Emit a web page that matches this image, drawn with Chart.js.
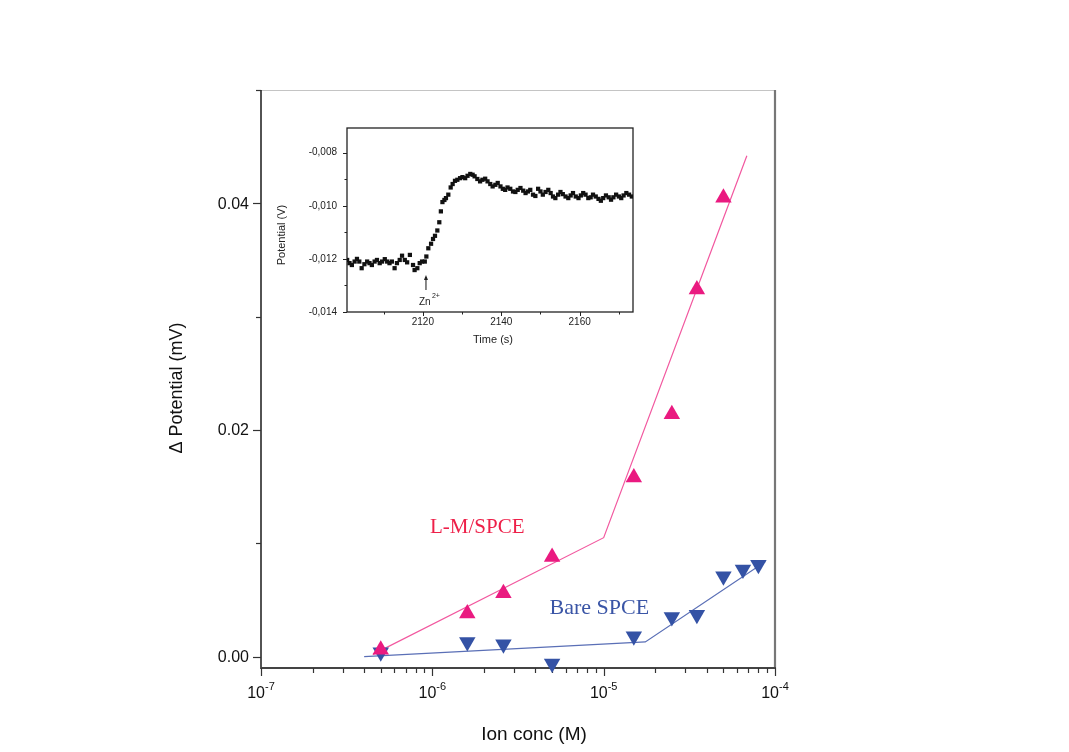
<!DOCTYPE html>
<html>
<head>
<meta charset="utf-8">
<script src="https://cdn.jsdelivr.net/npm/chart.js@4.4.0/dist/chart.umd.min.js"></script>
<style>
  html, body { margin: 0; padding: 0; background: #fff; }
  #wrap { position: relative; width: 1069px; height: 752px; }
  #chart { position: absolute; left: 0; top: 0; }
  #inset { position: absolute; left: 265px; top: 120px; }
</style>
</head>
<body>
<div id="wrap">
  <canvas id="chart" width="1069" height="752"></canvas>
  <canvas id="inset" width="375" height="228"></canvas>
</div>
<script>
// MAIN CHART DATA
const lmConcs = [5e-7, 1.6e-6, 2.6e-6, 5e-6, 1.5e-5, 2.5e-5, 3.5e-5, 5e-5];
const lmValues = [0.0006, 0.0038, 0.0056, 0.0088, 0.0158, 0.0214, 0.0324, 0.0405];
const bareConcs = [5e-7, 1.6e-6, 2.6e-6, 5e-6, 1.5e-5, 2.5e-5, 3.5e-5, 5e-5, 6.5e-5, 8e-5];
const bareValues = [0.0004, 0.0013, 0.0011, -0.0006, 0.0018, 0.0035, 0.0037, 0.0071, 0.0077, 0.0081];
const lmFitConcs = [4.5e-7, 1e-5, 6.85e-5];
const lmFitValues = [0.0002, 0.0105, 0.0442];
const bareFitConcs = [4e-7, 1.75e-5, 8.8e-5];
const bareFitValues = [0.0, 0.0013, 0.0084];
const xTickPowers = [-7, -6, -5, -4];
const xMinorSteps = [2, 3, 4, 5, 6, 7, 8, 9];
const yTickValues = [0, 0.02, 0.04];
const yTickLabels = ["0.00", "0.02", "0.04"];
const yMinorValues = [0.01, 0.03, 0.05];

// INSET DATA
const insetTimes = [
  2100.7, 2101.3, 2101.9, 2102.6, 2103.2, 2103.8, 2104.4, 2105.1, 2105.8, 2106.4,
  2107.0, 2107.7, 2108.3, 2109.0, 2109.6, 2110.3, 2110.9, 2111.5, 2112.1, 2112.8,
  2113.4, 2114.1, 2114.7, 2115.4, 2116.0, 2116.7, 2117.5, 2117.9, 2118.6, 2119.2,
  2119.8, 2120.5, 2120.9, 2121.4, 2122.1, 2122.6, 2123.1, 2123.7, 2124.2, 2124.6,
  2125.0, 2125.5, 2125.9, 2126.5, 2127.1, 2127.6, 2128.2, 2128.8, 2129.5, 2130.1,
  2130.8, 2131.4, 2132.1, 2132.7, 2133.2, 2133.9, 2134.6, 2135.2, 2135.9, 2136.5,
  2137.2, 2137.8, 2138.5, 2139.1, 2139.8, 2140.4, 2141.0, 2141.6, 2142.3, 2143.0,
  2143.6, 2144.2, 2144.9, 2145.6, 2146.2, 2146.8, 2147.4, 2148.1, 2148.7, 2149.4,
  2150.0, 2150.6, 2151.3, 2152.0, 2152.6, 2153.2, 2153.8, 2154.5, 2155.1, 2155.7,
  2156.4, 2157.1, 2157.7, 2158.3, 2159.0, 2159.7, 2160.3, 2160.9, 2161.5, 2162.2,
  2162.8, 2163.4, 2164.1, 2164.8, 2165.4, 2166.0, 2166.7, 2167.4, 2168.0, 2168.6,
  2169.3, 2170.0, 2170.6, 2171.2, 2171.9, 2172.6, 2173.3,
];
const insetPotentials = [
  -0.01204, -0.01216, -0.01223, -0.0121, -0.012, -0.0121, -0.01235, -0.0122, -0.0121, -0.01216,
  -0.01223, -0.0121, -0.01204, -0.01216, -0.0121, -0.01201, -0.0121, -0.01216, -0.0121, -0.01235,
  -0.01216, -0.01204, -0.01188, -0.01204, -0.01213, -0.01185, -0.01223, -0.01242, -0.01235, -0.01216,
  -0.0121, -0.0121, -0.01191, -0.0116, -0.01143, -0.01125, -0.01113, -0.01093, -0.01062, -0.01021,
  -0.00986, -0.00978, -0.00971, -0.00958, -0.00931, -0.00918, -0.00906, -0.00902, -0.00896, -0.00892,
  -0.00896, -0.00887, -0.0088, -0.00883, -0.00889, -0.00899, -0.00908, -0.00902, -0.00898, -0.00908,
  -0.00918, -0.00927, -0.00921, -0.00914, -0.00927, -0.00936, -0.0094, -0.00931, -0.00936, -0.00946,
  -0.00948, -0.0094, -0.00933, -0.00943, -0.00952, -0.00946, -0.0094, -0.00958, -0.00963, -0.00936,
  -0.00946, -0.00958, -0.00948, -0.0094, -0.00952, -0.00965, -0.00971, -0.00958, -0.00948, -0.00956,
  -0.00965, -0.00971, -0.00961, -0.00952, -0.00965, -0.00971, -0.00961, -0.00952, -0.00958, -0.00971,
  -0.00968, -0.00958, -0.00965, -0.00974, -0.00981, -0.00971, -0.00961, -0.00968, -0.00977, -0.00968,
  -0.00958, -0.00965, -0.00971, -0.00961, -0.00952, -0.00958, -0.00965,
];
const insetYTicks = [-0.008, -0.01, -0.012, -0.014];
const insetYLabels = ["-0,008", "-0,010", "-0,012", "-0,014"];
const insetYMinor = [-0.009, -0.011, -0.013];
const insetXTicks = [2120, 2140, 2160];
const insetXMinor = [2110, 2130, 2150, 2170];

const SANS = "'Liberation Sans', Arial, sans-serif";
const SERIF = "'Liberation Serif', 'Times New Roman', serif";

function pairs(xs, ys) {
  return xs.map((x, i) => ({ x: x, y: ys[i] }));
}

function seg(ctx, x1, y1, x2, y2) {
  ctx.beginPath();
  ctx.moveTo(x1, y1);
  ctx.lineTo(x2, y2);
  ctx.stroke();
}

// axes, ticks and labels of the main plot
const mainFrame = {
  id: "mainFrame",
  beforeDatasetsDraw(chart) {
    const { ctx, chartArea: a, scales: { x, y } } = chart;
    ctx.save();
    ctx.strokeStyle = "#c4c4c4";
    ctx.lineWidth = 1;
    seg(ctx, a.left, a.top + 0.5, a.right, a.top + 0.5);
    ctx.strokeStyle = "#777";
    ctx.lineWidth = 2.2;
    seg(ctx, a.right, a.top, a.right, a.bottom);
    ctx.strokeStyle = "#1a1a1a";
    ctx.lineWidth = 1.5;
    seg(ctx, a.left, a.top, a.left, a.bottom + 1);
    ctx.strokeStyle = "#444";
    ctx.lineWidth = 2;
    seg(ctx, a.left, a.bottom, a.right + 1, a.bottom);

    // x ticks
    ctx.strokeStyle = "#333";
    ctx.lineWidth = 1.2;
    xTickPowers.forEach((p, i) => {
      const px = Math.round(x.getPixelForValue(Math.pow(10, p))) + 0.5;
      seg(ctx, px, a.bottom, px, a.bottom + 8);
      if (i < xTickPowers.length - 1) {
        xMinorSteps.forEach((m) => {
          const mx = Math.round(x.getPixelForValue(m * Math.pow(10, p))) + 0.5;
          seg(ctx, mx, a.bottom, mx, a.bottom + 5);
        });
      }
    });
    // y ticks
    yTickValues.forEach((v) => {
      const py = Math.round(y.getPixelForValue(v)) + 0.5;
      seg(ctx, a.left - 8, py, a.left, py);
    });
    yMinorValues.forEach((v) => {
      const py = Math.round(y.getPixelForValue(v)) + 0.5;
      seg(ctx, a.left - 5, py, a.left, py);
    });
    ctx.restore();
  },
  afterDraw(chart) {
    const { ctx, chartArea: a, scales: { x, y } } = chart;
    ctx.save();
    ctx.fillStyle = "#111";
    // y tick labels
    ctx.font = "16px " + SANS;
    ctx.textAlign = "right";
    ctx.textBaseline = "middle";
    yTickValues.forEach((v, i) => {
      ctx.fillText(yTickLabels[i], a.left - 12, y.getPixelForValue(v) + 1);
    });
    // x tick labels 10^n
    xTickPowers.forEach((p) => {
      const px = x.getPixelForValue(Math.pow(10, p));
      ctx.font = "16px " + SANS;
      const wb = ctx.measureText("10").width;
      ctx.font = "11px " + SANS;
      const we = ctx.measureText(String(p)).width;
      const left = px - (wb + we) / 2;
      ctx.textAlign = "left";
      ctx.textBaseline = "alphabetic";
      ctx.font = "16px " + SANS;
      ctx.fillText("10", left, 698);
      ctx.font = "11px " + SANS;
      ctx.fillText(String(p), left + wb, 690);
    });
    // axis titles
    ctx.font = "19px " + SANS;
    ctx.textAlign = "center";
    ctx.textBaseline = "middle";
    ctx.fillText("Ion conc (M)", 534, 735);
    ctx.save();
    ctx.translate(177, 388);
    ctx.rotate(-Math.PI / 2);
    ctx.font = "18px " + SANS;
    ctx.fillText("\u0394 Potential (mV)", 0, 0);
    ctx.restore();
    // series labels
    ctx.textBaseline = "alphabetic";
    ctx.font = "21px " + SERIF;
    ctx.fillStyle = "#ee2049";
    ctx.fillText("L-M/SPCE", x.getPixelForValue(1.83e-6), y.getPixelForValue(0.0109));
    ctx.font = "22px " + SERIF;
    ctx.fillStyle = "#3a55a6";
    ctx.fillText("Bare SPCE", x.getPixelForValue(9.44e-6), y.getPixelForValue(0.0038));
    ctx.restore();
  },
};

new Chart(document.getElementById("chart"), {
  type: "scatter",
  data: {
    datasets: [
      {
        label: "L-M/SPCE",
        data: pairs(lmConcs, lmValues),
        pointStyle: "triangle",
        pointRadius: 9.5,
        backgroundColor: "#ea1a80",
        borderWidth: 0,
        clip: false,
      },
      {
        label: "Bare SPCE",
        data: pairs(bareConcs, bareValues),
        pointStyle: "triangle",
        rotation: 180,
        pointRadius: 9.5,
        backgroundColor: "#3452a5",
        borderWidth: 0,
        clip: false,
      },
      {
        label: "L-M fit",
        data: pairs(lmFitConcs, lmFitValues),
        showLine: true,
        pointRadius: 0,
        borderColor: "#f2589f",
        borderWidth: 1.2,
      },
      {
        label: "Bare fit",
        data: pairs(bareFitConcs, bareFitValues),
        showLine: true,
        pointRadius: 0,
        borderColor: "#5a6fb6",
        borderWidth: 1.2,
      },
    ],
  },
  options: {
    responsive: false,
    animation: false,
    layout: { padding: { left: 160, top: 90, right: 294, bottom: 0 }, autoPadding: false },
    plugins: { legend: { display: false }, tooltip: { enabled: false } },
    scales: {
      x: {
        type: "logarithmic",
        min: 1e-7,
        max: 1e-4,
        ticks: { display: false },
        grid: { display: false },
        border: { display: false },
        afterFit(s) { s.height = 84; },
      },
      y: {
        type: "linear",
        min: -0.001,
        max: 0.05,
        ticks: { display: false },
        grid: { display: false },
        border: { display: false },
        afterFit(s) { s.width = 101; },
      },
    },
  },
  plugins: [mainFrame],
});

// INSET
const insetFrame = {
  id: "insetFrame",
  beforeDatasetsDraw(chart) {
    const { ctx, chartArea: a, scales: { x, y } } = chart;
    ctx.save();
    ctx.strokeStyle = "#222";
    ctx.lineWidth = 1.3;
    ctx.strokeRect(a.left, a.top, a.right - a.left, a.bottom - a.top);
    ctx.lineWidth = 1;
    insetYTicks.forEach((v) => {
      const py = Math.round(y.getPixelForValue(v)) + 0.5;
      seg(ctx, a.left - 4, py, a.left, py);
    });
    insetYMinor.forEach((v) => {
      const py = Math.round(y.getPixelForValue(v)) + 0.5;
      seg(ctx, a.left - 2.5, py, a.left, py);
    });
    insetXTicks.forEach((v) => {
      const px = Math.round(x.getPixelForValue(v)) + 0.5;
      seg(ctx, px, a.bottom, px, a.bottom + 4);
    });
    insetXMinor.forEach((v) => {
      const px = Math.round(x.getPixelForValue(v)) + 0.5;
      seg(ctx, px, a.bottom, px, a.bottom + 2.5);
    });
    ctx.restore();
  },
  afterDraw(chart) {
    const { ctx, chartArea: a, scales: { x, y } } = chart;
    ctx.save();
    ctx.fillStyle = "#222";
    ctx.font = "10px " + SANS;
    ctx.textAlign = "right";
    ctx.textBaseline = "middle";
    insetYTicks.forEach((v, i) => {
      ctx.fillText(insetYLabels[i], a.left - 10, y.getPixelForValue(v));
    });
    ctx.textAlign = "center";
    insetXTicks.forEach((v) => {
      ctx.fillText(String(v), x.getPixelForValue(v), a.bottom + 10);
    });
    ctx.font = "11px " + SANS;
    ctx.fillText("Time (s)", 228, 220);
    ctx.save();
    ctx.translate(17, 115);
    ctx.rotate(-Math.PI / 2);
    ctx.fillText("Potential (V)", 0, 0);
    ctx.restore();

    // Zn2+ injection marker
    const zx = x.getPixelForValue(2120.8);
    ctx.strokeStyle = "#111";
    ctx.lineWidth = 1;
    seg(ctx, zx, 170, zx, 157);
    ctx.beginPath();
    ctx.moveTo(zx, 155);
    ctx.lineTo(zx - 2, 160);
    ctx.lineTo(zx + 2, 160);
    ctx.closePath();
    ctx.fill();
    ctx.textAlign = "left";
    ctx.textBaseline = "alphabetic";
    ctx.font = "10px " + SANS;
    ctx.fillText("Zn", zx - 7, 185);
    ctx.font = "7px " + SANS;
    ctx.fillText("2+", zx + 6, 178);
    ctx.restore();
  },
};

new Chart(document.getElementById("inset"), {
  type: "scatter",
  data: {
    datasets: [
      {
        label: "Potential",
        data: pairs(insetTimes, insetPotentials),
        pointStyle: "rect",
        pointRadius: 3,
        backgroundColor: "#111",
        borderWidth: 0,
      },
    ],
  },
  options: {
    responsive: false,
    animation: false,
    layout: { padding: { left: 0, top: 8, right: 7, bottom: 0 }, autoPadding: false },
    plugins: { legend: { display: false }, tooltip: { enabled: false } },
    scales: {
      x: {
        type: "linear",
        min: 2100.66,
        max: 2173.6,
        ticks: { display: false },
        grid: { display: false },
        border: { display: false },
        afterFit(s) { s.height = 36; },
      },
      y: {
        type: "linear",
        min: -0.014,
        max: -0.00707,
        ticks: { display: false },
        grid: { display: false },
        border: { display: false },
        afterFit(s) { s.width = 82; },
      },
    },
  },
  plugins: [insetFrame],
});
</script>
</body>
</html>
